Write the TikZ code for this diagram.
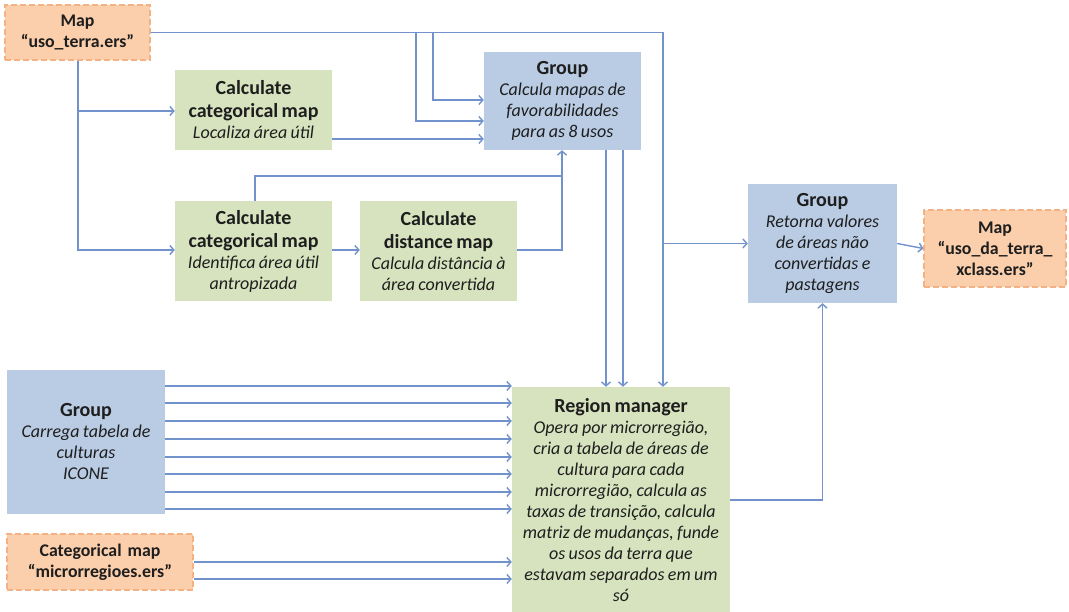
\documentclass[tikz,border=0pt]{standalone}
\usepackage{fontspec}
\setmainfont{Carlito}
\usetikzlibrary{arrows.meta}
\definecolor{ln}{HTML}{7292CC}
\definecolor{orf}{HTML}{FBCFAC}
\definecolor{ord}{HTML}{F4B183}
\definecolor{grf}{HTML}{D7E3BE}
\definecolor{blf}{HTML}{B9CCE4}
\definecolor{txt}{HTML}{1E1E1E}
\newcommand\ttl{\fontsize{20}{23}\selectfont\bfseries}
\newcommand\dsc{\fontsize{18}{21}\selectfont\mdseries\itshape}
\newcommand\mpt{\fontsize{17.8}{21}\selectfont\bfseries}
\begin{document}
\begin{tikzpicture}[x=1pt,y=-1pt,
  box/.style={rectangle,inner sep=0pt,text=txt,align=center},
  mapbox/.style={box,fill=orf,draw=ord,line width=1.2pt,dash pattern=on 6pt off 3pt,font=\mpt},
  grbox/.style={box,fill=grf},
  blbox/.style={box,fill=blf},
  arr/.style={draw=ln,line width=1.4pt,-{Straight Barb[length=4pt,width=9pt]}},
  ln/.style={draw=ln,line width=1.4pt}]
\useasboundingbox (0,0) rectangle (1069,612);
\fill[white] (0,0) rectangle (1069,612);

\node[mapbox,minimum width=145pt,minimum height=55pt,text width=140pt] (m1) at (77.5,32.5) {Map\\“uso\_terra.ers”\par};
\node[mapbox,minimum width=142pt,minimum height=77pt,text width=138pt] (mx) at (995,248.5) {Map\\“uso\_da\_terra\_\\xclass.ers”\par};
\node[mapbox,minimum width=186pt,minimum height=56pt,text width=180pt] (cm) at (100,562) {Categorical map\\“microrregioes.ers”\par};

\node[grbox,minimum width=157pt,minimum height=80pt,text width=154pt] (c1) at (253.5,110) {\ttl Calculate\\categorical map\par\dsc Localiza área útil\par};
\node[grbox,minimum width=157pt,minimum height=100pt,text width=154pt] (c2) at (253.5,251) {\ttl Calculate\\categorical map\par\dsc Identifica área útil\\antropizada\par};
\node[grbox,minimum width=157pt,minimum height=100pt,text width=154pt] (cd) at (438.5,251) {\ttl Calculate\\distance map\par\dsc Calcula distância à\\área convertida\par};
\node[blbox,minimum width=157pt,minimum height=98pt,text width=154pt] (gt) at (562.5,101) {\ttl Group\par\dsc Calcula mapas de\\favorabilidades\\para as 8 usos\par};
\node[blbox,minimum width=149pt,minimum height=119pt,text width=146pt] (gr) at (822.5,243.5) {\ttl Group\par\dsc Retorna valores\\de áreas não\\convertidas e\\pastagens\par};
\node[blbox,minimum width=158pt,minimum height=144pt,text width=154pt] (gl) at (86,442) {\ttl Group\par\dsc Carrega tabela de\\culturas\\ICONE\par};
\node[grbox,minimum width=218pt,minimum height=226pt,text width=216pt] (rm) at (621,500) {\ttl Region manager\par\dsc Opera por microrregião,\\cria a tabela de áreas de\\cultura para cada\\microrregião, calcula as\\taxas de transição, calcula\\matriz de mudanças, funde\\os usos da terra que\\estavam separados em um\\só\par};

\coordinate (j1) at (663,32.5);
\coordinate (ja) at (416,32.5);
\coordinate (jb) at (433,32.5);
\coordinate (jc) at (78,111);
\coordinate (jd) at (562,176);

\draw[arr] (m1.east) -- (j1) -- (j1 |- rm.north);
\draw[arr] (ja) |- (gt.west |- 0,121);
\draw[arr] (jb) |- (gt.west |- 0,100);
\draw[arr] (m1.south -| 78,0) |- (c2.west |- 0,250);
\draw[arr] (jc) -- (c1.west |- jc);
\draw[arr] (c1.east |- 0,139) -- (gt.west |- 0,139);
\draw[arr] (c2.north -| 255,0) |- (jd) -- (jd |- gt.south);
\draw[arr] (c2.east |- 0,250) -- (cd.west |- 0,250);
\draw[ln] (cd.east |- 0,250) -| (jd);
\draw[arr] (gt.south -| 606,0) -- (rm.north -| 606,0);
\draw[arr] (gt.south -| 623,0) -- (rm.north -| 623,0);
\draw[arr] (j1 |- gr.west) -- (gr.west);
\draw[arr] (gr.east) -- (mx.west);
\draw[arr] (rm.east |- 0,500) -| (gr.south);
\foreach \yy in {386,403,421,439,457,474,492,509}
  \draw[arr] (gl.east |- 0,\yy) -- (rm.west |- 0,\yy);
\foreach \yy in {562,579}
  \draw[arr] (cm.east |- 0,\yy) -- (rm.west |- 0,\yy);
\end{tikzpicture}
\end{document}
